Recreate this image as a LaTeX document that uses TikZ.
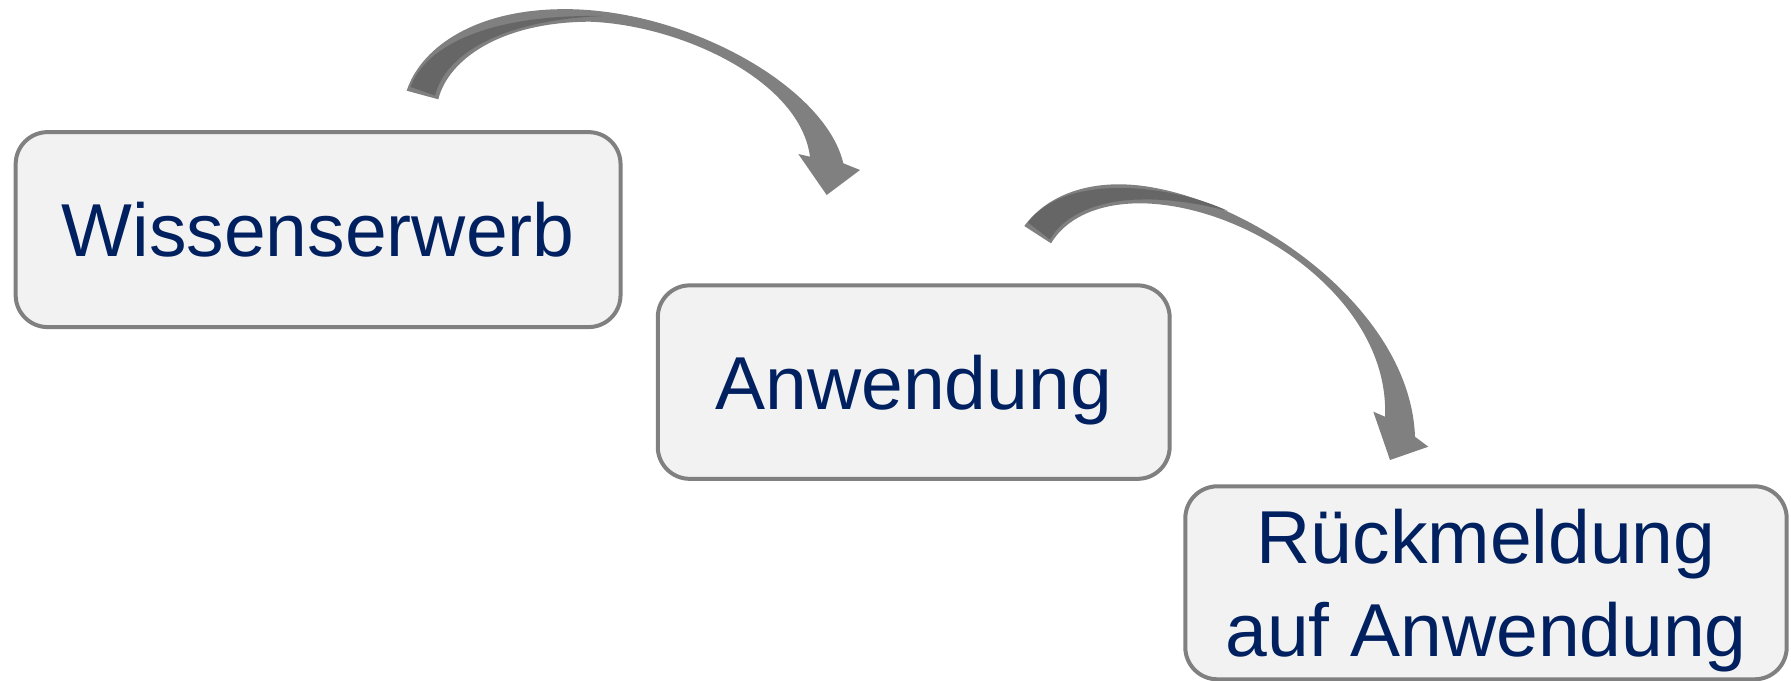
\documentclass[tikz,border=0pt]{standalone}
\usepackage{fontspec}
\setmainfont{Liberation Sans}
\usepackage{xcolor}
\usepackage{tikz}
\usetikzlibrary{positioning}
\definecolor{boxfill}{HTML}{F2F2F2}
\definecolor{boxline}{HTML}{808080}
\definecolor{textblue}{HTML}{002060}
\definecolor{arrowgray}{HTML}{808080}
\definecolor{arrowdark}{HTML}{666666}

\begin{document}
\begin{tikzpicture}[x=0.02cm,y=-0.02cm,
  stage/.style={draw=boxline,fill=boxfill,line width=0.08cm,rounded corners=0.64cm,
    inner sep=0pt,text=textblue,font=\fontsize{42.7}{52.6}\selectfont,
    align=center,text depth=0pt}]
  \useasboundingbox (0,0) rectangle (1791,680); % Bildausschnitt
  \node[stage,minimum width=12.1cm,minimum height=3.9cm] (wissen) at (318.1,229.6) {Wissenserwerb};
  \node[stage,minimum width=10.24cm,minimum height=3.87cm] (anwendung) at (913.7,382.1) {Anwendung};
  \node[stage,minimum width=12.03cm,minimum height=3.86cm] (rueck) at (1486,582.8) {R\"uckmeldung\\auf Anwendung};

  % erster Bogenpfeil
  \fill[arrowgray] (406.7,90.7) .. controls (420,50) and (470,12) .. (555,9.3)
    .. controls (680,5) and (825,85) .. (843.3,163.3)
    -- (860,170) -- (826.7,195) -- (798.3,154) -- (810,156.7)
    .. controls (800,80) and (680,25) .. (590,21.7)
    .. controls (500,22) and (448,60) .. (438.3,99.3) -- cycle;
  \fill[arrowdark] (410.5,87) .. controls (424,50) and (480,14) .. (603,16)
    .. controls (500,20) and (445,55) .. (435,95.5) -- cycle;

  % zweiter Bogenpfeil
  \fill[arrowgray] (1024.3,226) .. controls (1045,198) and (1080,184) .. (1120,184.3)
    .. controls (1230,185) and (1410,300) .. (1415,436.7)
    -- (1428.3,446.7) -- (1390,460) -- (1373.3,411.7) -- (1385,416.7)
    .. controls (1390,300) and (1250,205) .. (1141.7,203.3)
    .. controls (1095,203) and (1065,220) .. (1051,243.3) -- cycle;
  \fill[arrowdark] (1028,222.5) .. controls (1048,196) and (1085,188) .. (1120,188)
    .. controls (1160,188) and (1200,198) .. (1228,211)
    .. controls (1190,201) and (1160,199) .. (1141.7,199.5)
    .. controls (1095,200) and (1062,217) .. (1050,239.5) -- cycle;
\end{tikzpicture}
\end{document}
